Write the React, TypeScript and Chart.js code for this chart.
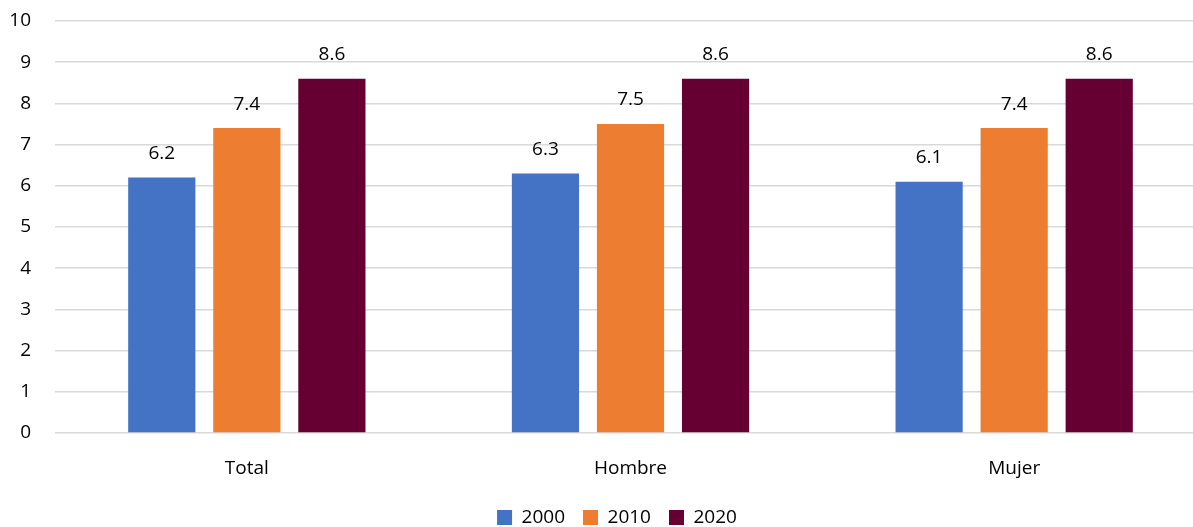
import React, { useEffect, useRef } from "react";
import { Chart, registerables } from "chart.js";

Chart.register(...registerables);

const categories = ["Total", "Hombre", "Mujer"];
const seriesNames = ["2000", "2010", "2020"];
const values2000 = [6.2, 6.3, 6.1];
const values2010 = [7.4, 7.5, 7.4];
const values2020 = [8.6, 8.6, 8.6];
const colors = ["#4472C4", "#ED7D31", "#660033"];
const yTicks = [0, 1, 2, 3, 4, 5, 6, 7, 8, 9, 10];

const FONT = "'Open Sans', 'Noto Sans', sans-serif";
const FS = 19;

const dataLabelPlugin = {
  id: "dataLabels",
  afterDatasetsDraw(chart: any) {
    const ctx = chart.ctx;
    ctx.save();
    ctx.font = `${FS}px ${FONT}`;
    ctx.fillStyle = "#000000";
    ctx.textAlign = "center";
    ctx.textBaseline = "middle";
    chart.data.datasets.forEach((ds: any, i: number) => {
      const meta = chart.getDatasetMeta(i);
      meta.data.forEach((bar: any, j: number) => {
        ctx.fillText(ds.data[j].toFixed(1), bar.x, bar.y - 24);
      });
    });
    ctx.restore();
  },
};

const legendShiftPlugin = {
  id: "legendShift",
  afterLayout(chart: any) {
    if (chart.legend) {
      chart.legend.left = 28;
    }
  },
};

export default function App() {
  const ref = useRef<HTMLCanvasElement>(null);
  useEffect(() => {
    document.body.style.margin = "0";
    const chart = new Chart(ref.current!, {
      type: "bar",
      data: {
        labels: categories,
        datasets: [values2000, values2010, values2020].map((d, i) => ({
          label: seriesNames[i],
          data: d,
          backgroundColor: colors[i],
          categoryPercentage: 0.665,
          barPercentage: 0.79,
        })),
      },
      options: {
        animation: false,
        responsive: false,
        maintainAspectRatio: false,
        layout: { padding: { top: 21, right: 3, left: 0, bottom: -10 } },
        plugins: {
          legend: {
            position: "bottom",
            labels: {
              font: { family: FONT, size: FS },
              color: "#000",
              boxWidth: 15,
              boxHeight: 15,
              padding: 18,
            },
          },
          tooltip: { enabled: false },
        },
        scales: {
          x: {
            afterFit(scale: any) {
              scale.height = 57;
            },
            grid: { display: false, drawTicks: false },
            border: { display: false },
            ticks: { font: { family: FONT, size: FS }, color: "#000", padding: 24 },
          },
          y: {
            min: 0,
            max: 10,
            afterFit(scale: any) {
              scale.width = 55;
              scale.paddingTop = 0;
              scale.paddingBottom = 0;
            },
            afterBuildTicks(scale: any) {
              scale.ticks = yTicks.map((v) => ({ value: v }));
            },
            grid: { color: "#d9d9d9", lineWidth: 1.5, drawTicks: false },
            border: { display: false },
            ticks: { font: { family: FONT, size: FS }, color: "#000", padding: 24 },
          },
        },
      },
      plugins: [dataLabelPlugin, legendShiftPlugin],
    });
    return () => chart.destroy();
  }, []);
  return (
    <div style={{ width: 1193, height: 527, overflow: "hidden" }}>
      <canvas ref={ref} width={1209} height={527} style={{ display: "block" }} />
    </div>
  );
}
